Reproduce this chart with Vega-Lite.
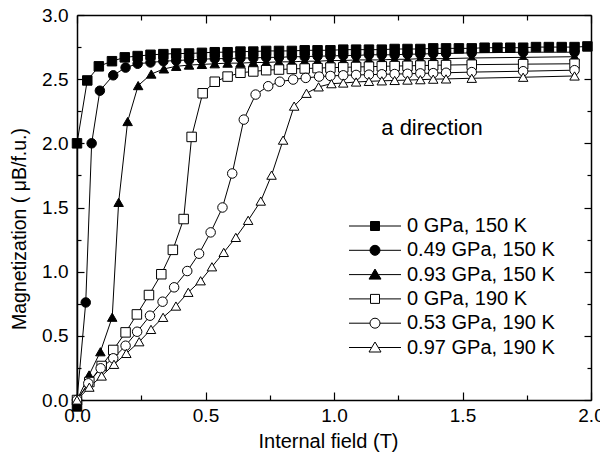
{
  "$schema": "https://vega.github.io/schema/vega-lite/v6.json",
  "width": 514,
  "height": 385,
  "autosize": "none",
  "padding": {"left": 77, "top": 15, "right": 9, "bottom": 58},
  "background": "white",
  "config": {
    "view": {"stroke": null},
    "font": "Liberation Sans",
    "axis": {
      "grid": false,
      "domainColor": "black",
      "domainWidth": 1.5,
      "tickColor": "black",
      "tickWidth": 1.2,
      "labelColor": "black",
      "labelFont": "Liberation Sans",
      "labelFontSize": 19,
      "titleColor": "black",
      "titleFont": "Liberation Sans",
      "titleFontSize": 20,
      "titleFontWeight": "normal"
    },
    "legend": {
      "title": null,
      "orient": "none",
      "legendX": 288,
      "legendY": 201,
      "padding": 0,
      "labelFont": "Liberation Sans",
      "labelFontSize": 20,
      "labelColor": "black",
      "labelOffset": 22,
      "symbolSize": 100,
      "symbolStrokeColor": "black",
      "symbolStrokeWidth": 1,
      "rowPadding": 4.3
    }
  },
  "data": {
    "values": [
      {"series": "0 GPa, 150 K", "i": 0, "x": 0, "y": -0.05},
      {"series": "0 GPa, 150 K", "i": 1, "x": 0, "y": 2.0},
      {"series": "0 GPa, 150 K", "i": 2, "x": 0.04, "y": 2.49},
      {"series": "0 GPa, 150 K", "i": 3, "x": 0.085, "y": 2.6},
      {"series": "0 GPa, 150 K", "i": 4, "x": 0.136, "y": 2.64},
      {"series": "0 GPa, 150 K", "i": 5, "x": 0.186, "y": 2.67},
      {"series": "0 GPa, 150 K", "i": 6, "x": 0.236, "y": 2.68},
      {"series": "0 GPa, 150 K", "i": 7, "x": 0.286, "y": 2.69},
      {"series": "0 GPa, 150 K", "i": 8, "x": 0.336, "y": 2.695},
      {"series": "0 GPa, 150 K", "i": 9, "x": 0.386, "y": 2.7},
      {"series": "0 GPa, 150 K", "i": 10, "x": 0.436, "y": 2.7},
      {"series": "0 GPa, 150 K", "i": 11, "x": 0.486, "y": 2.705},
      {"series": "0 GPa, 150 K", "i": 12, "x": 0.536, "y": 2.71},
      {"series": "0 GPa, 150 K", "i": 13, "x": 0.586, "y": 2.71},
      {"series": "0 GPa, 150 K", "i": 14, "x": 0.636, "y": 2.715},
      {"series": "0 GPa, 150 K", "i": 15, "x": 0.686, "y": 2.715},
      {"series": "0 GPa, 150 K", "i": 16, "x": 0.736, "y": 2.72},
      {"series": "0 GPa, 150 K", "i": 17, "x": 0.786, "y": 2.72},
      {"series": "0 GPa, 150 K", "i": 18, "x": 0.836, "y": 2.72},
      {"series": "0 GPa, 150 K", "i": 19, "x": 0.886, "y": 2.725},
      {"series": "0 GPa, 150 K", "i": 20, "x": 0.936, "y": 2.725},
      {"series": "0 GPa, 150 K", "i": 21, "x": 0.986, "y": 2.725},
      {"series": "0 GPa, 150 K", "i": 22, "x": 1.036, "y": 2.73},
      {"series": "0 GPa, 150 K", "i": 23, "x": 1.086, "y": 2.73},
      {"series": "0 GPa, 150 K", "i": 24, "x": 1.136, "y": 2.73},
      {"series": "0 GPa, 150 K", "i": 25, "x": 1.186, "y": 2.73},
      {"series": "0 GPa, 150 K", "i": 26, "x": 1.236, "y": 2.735},
      {"series": "0 GPa, 150 K", "i": 27, "x": 1.286, "y": 2.735},
      {"series": "0 GPa, 150 K", "i": 28, "x": 1.336, "y": 2.735},
      {"series": "0 GPa, 150 K", "i": 29, "x": 1.386, "y": 2.74},
      {"series": "0 GPa, 150 K", "i": 30, "x": 1.436, "y": 2.74},
      {"series": "0 GPa, 150 K", "i": 31, "x": 1.486, "y": 2.74},
      {"series": "0 GPa, 150 K", "i": 32, "x": 1.536, "y": 2.74},
      {"series": "0 GPa, 150 K", "i": 33, "x": 1.586, "y": 2.745},
      {"series": "0 GPa, 150 K", "i": 34, "x": 1.636, "y": 2.745},
      {"series": "0 GPa, 150 K", "i": 35, "x": 1.686, "y": 2.745},
      {"series": "0 GPa, 150 K", "i": 36, "x": 1.736, "y": 2.745},
      {"series": "0 GPa, 150 K", "i": 37, "x": 1.786, "y": 2.75},
      {"series": "0 GPa, 150 K", "i": 38, "x": 1.836, "y": 2.75},
      {"series": "0 GPa, 150 K", "i": 39, "x": 1.886, "y": 2.75},
      {"series": "0 GPa, 150 K", "i": 40, "x": 1.936, "y": 2.75},
      {"series": "0 GPa, 150 K", "i": 41, "x": 1.986, "y": 2.755},

      {"series": "0.49 GPa, 150 K", "i": 0, "x": 0, "y": 0},
      {"series": "0.49 GPa, 150 K", "i": 1, "x": 0.034, "y": 0.76},
      {"series": "0.49 GPa, 150 K", "i": 2, "x": 0.057, "y": 2.0},
      {"series": "0.49 GPa, 150 K", "i": 3, "x": 0.089, "y": 2.41},
      {"series": "0.49 GPa, 150 K", "i": 4, "x": 0.141, "y": 2.53},
      {"series": "0.49 GPa, 150 K", "i": 5, "x": 0.189, "y": 2.59},
      {"series": "0.49 GPa, 150 K", "i": 6, "x": 0.236, "y": 2.62},
      {"series": "0.49 GPa, 150 K", "i": 7, "x": 0.286, "y": 2.63},
      {"series": "0.49 GPa, 150 K", "i": 8, "x": 0.336, "y": 2.64},
      {"series": "0.49 GPa, 150 K", "i": 9, "x": 0.386, "y": 2.645},
      {"series": "0.49 GPa, 150 K", "i": 10, "x": 0.436, "y": 2.65},
      {"series": "0.49 GPa, 150 K", "i": 11, "x": 0.486, "y": 2.655},
      {"series": "0.49 GPa, 150 K", "i": 12, "x": 0.536, "y": 2.66},
      {"series": "0.49 GPa, 150 K", "i": 13, "x": 0.586, "y": 2.66},
      {"series": "0.49 GPa, 150 K", "i": 14, "x": 0.636, "y": 2.665},
      {"series": "0.49 GPa, 150 K", "i": 15, "x": 0.686, "y": 2.665},
      {"series": "0.49 GPa, 150 K", "i": 16, "x": 0.736, "y": 2.67},
      {"series": "0.49 GPa, 150 K", "i": 17, "x": 0.786, "y": 2.67},
      {"series": "0.49 GPa, 150 K", "i": 18, "x": 0.836, "y": 2.675},
      {"series": "0.49 GPa, 150 K", "i": 19, "x": 0.886, "y": 2.675},
      {"series": "0.49 GPa, 150 K", "i": 20, "x": 0.936, "y": 2.68},
      {"series": "0.49 GPa, 150 K", "i": 21, "x": 0.986, "y": 2.68},
      {"series": "0.49 GPa, 150 K", "i": 22, "x": 1.036, "y": 2.685},
      {"series": "0.49 GPa, 150 K", "i": 23, "x": 1.086, "y": 2.685},
      {"series": "0.49 GPa, 150 K", "i": 24, "x": 1.136, "y": 2.69},
      {"series": "0.49 GPa, 150 K", "i": 25, "x": 1.186, "y": 2.69},
      {"series": "0.49 GPa, 150 K", "i": 26, "x": 1.236, "y": 2.69},
      {"series": "0.49 GPa, 150 K", "i": 27, "x": 1.286, "y": 2.695},
      {"series": "0.49 GPa, 150 K", "i": 28, "x": 1.336, "y": 2.695},
      {"series": "0.49 GPa, 150 K", "i": 29, "x": 1.386, "y": 2.7},
      {"series": "0.49 GPa, 150 K", "i": 30, "x": 1.436, "y": 2.7},
      {"series": "0.49 GPa, 150 K", "i": 31, "x": 1.536, "y": 2.705},
      {"series": "0.49 GPa, 150 K", "i": 32, "x": 1.736, "y": 2.71},
      {"series": "0.49 GPa, 150 K", "i": 33, "x": 1.936, "y": 2.71},

      {"series": "0.93 GPa, 150 K", "i": 0, "x": 0, "y": 0},
      {"series": "0.93 GPa, 150 K", "i": 1, "x": 0.047, "y": 0.195},
      {"series": "0.93 GPa, 150 K", "i": 2, "x": 0.091, "y": 0.376},
      {"series": "0.93 GPa, 150 K", "i": 3, "x": 0.137, "y": 0.645},
      {"series": "0.93 GPa, 150 K", "i": 4, "x": 0.162, "y": 1.54},
      {"series": "0.93 GPa, 150 K", "i": 5, "x": 0.197, "y": 2.17},
      {"series": "0.93 GPa, 150 K", "i": 6, "x": 0.238, "y": 2.45},
      {"series": "0.93 GPa, 150 K", "i": 7, "x": 0.289, "y": 2.54},
      {"series": "0.93 GPa, 150 K", "i": 8, "x": 0.338, "y": 2.58},
      {"series": "0.93 GPa, 150 K", "i": 9, "x": 0.386, "y": 2.6},
      {"series": "0.93 GPa, 150 K", "i": 10, "x": 0.436, "y": 2.61},
      {"series": "0.93 GPa, 150 K", "i": 11, "x": 0.486, "y": 2.615},
      {"series": "0.93 GPa, 150 K", "i": 12, "x": 0.536, "y": 2.62},
      {"series": "0.93 GPa, 150 K", "i": 13, "x": 0.586, "y": 2.625},
      {"series": "0.93 GPa, 150 K", "i": 14, "x": 0.636, "y": 2.625},
      {"series": "0.93 GPa, 150 K", "i": 15, "x": 0.686, "y": 2.63},
      {"series": "0.93 GPa, 150 K", "i": 16, "x": 0.736, "y": 2.63},
      {"series": "0.93 GPa, 150 K", "i": 17, "x": 0.786, "y": 2.635},
      {"series": "0.93 GPa, 150 K", "i": 18, "x": 0.836, "y": 2.635},
      {"series": "0.93 GPa, 150 K", "i": 19, "x": 0.886, "y": 2.64},
      {"series": "0.93 GPa, 150 K", "i": 20, "x": 0.936, "y": 2.64},
      {"series": "0.93 GPa, 150 K", "i": 21, "x": 0.986, "y": 2.645},
      {"series": "0.93 GPa, 150 K", "i": 22, "x": 1.036, "y": 2.645},
      {"series": "0.93 GPa, 150 K", "i": 23, "x": 1.086, "y": 2.65},
      {"series": "0.93 GPa, 150 K", "i": 24, "x": 1.136, "y": 2.65},
      {"series": "0.93 GPa, 150 K", "i": 25, "x": 1.186, "y": 2.65},
      {"series": "0.93 GPa, 150 K", "i": 26, "x": 1.236, "y": 2.655},
      {"series": "0.93 GPa, 150 K", "i": 27, "x": 1.286, "y": 2.655},
      {"series": "0.93 GPa, 150 K", "i": 28, "x": 1.336, "y": 2.66},
      {"series": "0.93 GPa, 150 K", "i": 29, "x": 1.386, "y": 2.66},
      {"series": "0.93 GPa, 150 K", "i": 30, "x": 1.436, "y": 2.66},
      {"series": "0.93 GPa, 150 K", "i": 31, "x": 1.536, "y": 2.665},
      {"series": "0.93 GPa, 150 K", "i": 32, "x": 1.736, "y": 2.67},
      {"series": "0.93 GPa, 150 K", "i": 33, "x": 1.936, "y": 2.675},

      {"series": "0 GPa, 190 K", "i": 0, "x": 0, "y": 0},
      {"series": "0 GPa, 190 K", "i": 1, "x": 0.048, "y": 0.14},
      {"series": "0 GPa, 190 K", "i": 2, "x": 0.096, "y": 0.265},
      {"series": "0 GPa, 190 K", "i": 3, "x": 0.141, "y": 0.39},
      {"series": "0 GPa, 190 K", "i": 4, "x": 0.189, "y": 0.527},
      {"series": "0 GPa, 190 K", "i": 5, "x": 0.233, "y": 0.667},
      {"series": "0 GPa, 190 K", "i": 6, "x": 0.28, "y": 0.818},
      {"series": "0 GPa, 190 K", "i": 7, "x": 0.328, "y": 0.98},
      {"series": "0 GPa, 190 K", "i": 8, "x": 0.373, "y": 1.17},
      {"series": "0 GPa, 190 K", "i": 9, "x": 0.415, "y": 1.41},
      {"series": "0 GPa, 190 K", "i": 10, "x": 0.446, "y": 2.05},
      {"series": "0 GPa, 190 K", "i": 11, "x": 0.489, "y": 2.39},
      {"series": "0 GPa, 190 K", "i": 12, "x": 0.536, "y": 2.48},
      {"series": "0 GPa, 190 K", "i": 13, "x": 0.586, "y": 2.52},
      {"series": "0 GPa, 190 K", "i": 14, "x": 0.636, "y": 2.55},
      {"series": "0 GPa, 190 K", "i": 15, "x": 0.686, "y": 2.56},
      {"series": "0 GPa, 190 K", "i": 16, "x": 0.736, "y": 2.57},
      {"series": "0 GPa, 190 K", "i": 17, "x": 0.786, "y": 2.575},
      {"series": "0 GPa, 190 K", "i": 18, "x": 0.836, "y": 2.58},
      {"series": "0 GPa, 190 K", "i": 19, "x": 0.886, "y": 2.583},
      {"series": "0 GPa, 190 K", "i": 20, "x": 0.936, "y": 2.586},
      {"series": "0 GPa, 190 K", "i": 21, "x": 0.986, "y": 2.59},
      {"series": "0 GPa, 190 K", "i": 22, "x": 1.036, "y": 2.592},
      {"series": "0 GPa, 190 K", "i": 23, "x": 1.086, "y": 2.595},
      {"series": "0 GPa, 190 K", "i": 24, "x": 1.136, "y": 2.597},
      {"series": "0 GPa, 190 K", "i": 25, "x": 1.186, "y": 2.6},
      {"series": "0 GPa, 190 K", "i": 26, "x": 1.236, "y": 2.602},
      {"series": "0 GPa, 190 K", "i": 27, "x": 1.286, "y": 2.604},
      {"series": "0 GPa, 190 K", "i": 28, "x": 1.336, "y": 2.606},
      {"series": "0 GPa, 190 K", "i": 29, "x": 1.386, "y": 2.608},
      {"series": "0 GPa, 190 K", "i": 30, "x": 1.436, "y": 2.61},
      {"series": "0 GPa, 190 K", "i": 31, "x": 1.536, "y": 2.613},
      {"series": "0 GPa, 190 K", "i": 32, "x": 1.736, "y": 2.617},
      {"series": "0 GPa, 190 K", "i": 33, "x": 1.936, "y": 2.62},

      {"series": "0.53 GPa, 190 K", "i": 0, "x": 0, "y": 0},
      {"series": "0.53 GPa, 190 K", "i": 1, "x": 0.044, "y": 0.13},
      {"series": "0.53 GPa, 190 K", "i": 2, "x": 0.092, "y": 0.247},
      {"series": "0.53 GPa, 190 K", "i": 3, "x": 0.141, "y": 0.325},
      {"series": "0.53 GPa, 190 K", "i": 4, "x": 0.189, "y": 0.423},
      {"series": "0.53 GPa, 190 K", "i": 5, "x": 0.234, "y": 0.532},
      {"series": "0.53 GPa, 190 K", "i": 6, "x": 0.284, "y": 0.657},
      {"series": "0.53 GPa, 190 K", "i": 7, "x": 0.333, "y": 0.766},
      {"series": "0.53 GPa, 190 K", "i": 8, "x": 0.378, "y": 0.878},
      {"series": "0.53 GPa, 190 K", "i": 9, "x": 0.429, "y": 1.005},
      {"series": "0.53 GPa, 190 K", "i": 10, "x": 0.475, "y": 1.14},
      {"series": "0.53 GPa, 190 K", "i": 11, "x": 0.52, "y": 1.306},
      {"series": "0.53 GPa, 190 K", "i": 12, "x": 0.566, "y": 1.5},
      {"series": "0.53 GPa, 190 K", "i": 13, "x": 0.604, "y": 1.765},
      {"series": "0.53 GPa, 190 K", "i": 14, "x": 0.649, "y": 2.185},
      {"series": "0.53 GPa, 190 K", "i": 15, "x": 0.695, "y": 2.38},
      {"series": "0.53 GPa, 190 K", "i": 16, "x": 0.744, "y": 2.445},
      {"series": "0.53 GPa, 190 K", "i": 17, "x": 0.789, "y": 2.48},
      {"series": "0.53 GPa, 190 K", "i": 18, "x": 0.841, "y": 2.497},
      {"series": "0.53 GPa, 190 K", "i": 19, "x": 0.89, "y": 2.51},
      {"series": "0.53 GPa, 190 K", "i": 20, "x": 0.942, "y": 2.52},
      {"series": "0.53 GPa, 190 K", "i": 21, "x": 0.986, "y": 2.525},
      {"series": "0.53 GPa, 190 K", "i": 22, "x": 1.036, "y": 2.53},
      {"series": "0.53 GPa, 190 K", "i": 23, "x": 1.086, "y": 2.533},
      {"series": "0.53 GPa, 190 K", "i": 24, "x": 1.136, "y": 2.535},
      {"series": "0.53 GPa, 190 K", "i": 25, "x": 1.186, "y": 2.538},
      {"series": "0.53 GPa, 190 K", "i": 26, "x": 1.236, "y": 2.54},
      {"series": "0.53 GPa, 190 K", "i": 27, "x": 1.286, "y": 2.542},
      {"series": "0.53 GPa, 190 K", "i": 28, "x": 1.336, "y": 2.545},
      {"series": "0.53 GPa, 190 K", "i": 29, "x": 1.386, "y": 2.547},
      {"series": "0.53 GPa, 190 K", "i": 30, "x": 1.436, "y": 2.55},
      {"series": "0.53 GPa, 190 K", "i": 31, "x": 1.536, "y": 2.555},
      {"series": "0.53 GPa, 190 K", "i": 32, "x": 1.736, "y": 2.562},
      {"series": "0.53 GPa, 190 K", "i": 33, "x": 1.936, "y": 2.57},

      {"series": "0.97 GPa, 190 K", "i": 0, "x": 0, "y": 0},
      {"series": "0.97 GPa, 190 K", "i": 1, "x": 0.048, "y": 0.1},
      {"series": "0.97 GPa, 190 K", "i": 2, "x": 0.096, "y": 0.187},
      {"series": "0.97 GPa, 190 K", "i": 3, "x": 0.144, "y": 0.278},
      {"series": "0.97 GPa, 190 K", "i": 4, "x": 0.192, "y": 0.363},
      {"series": "0.97 GPa, 190 K", "i": 5, "x": 0.242, "y": 0.454},
      {"series": "0.97 GPa, 190 K", "i": 6, "x": 0.288, "y": 0.55},
      {"series": "0.97 GPa, 190 K", "i": 7, "x": 0.335, "y": 0.644},
      {"series": "0.97 GPa, 190 K", "i": 8, "x": 0.385, "y": 0.732},
      {"series": "0.97 GPa, 190 K", "i": 9, "x": 0.433, "y": 0.839},
      {"series": "0.97 GPa, 190 K", "i": 10, "x": 0.481, "y": 0.929},
      {"series": "0.97 GPa, 190 K", "i": 11, "x": 0.525, "y": 1.038},
      {"series": "0.97 GPa, 190 K", "i": 12, "x": 0.571, "y": 1.15},
      {"series": "0.97 GPa, 190 K", "i": 13, "x": 0.618, "y": 1.267},
      {"series": "0.97 GPa, 190 K", "i": 14, "x": 0.666, "y": 1.4},
      {"series": "0.97 GPa, 190 K", "i": 15, "x": 0.715, "y": 1.55},
      {"series": "0.97 GPa, 190 K", "i": 16, "x": 0.757, "y": 1.752},
      {"series": "0.97 GPa, 190 K", "i": 17, "x": 0.802, "y": 2.025},
      {"series": "0.97 GPa, 190 K", "i": 18, "x": 0.845, "y": 2.29},
      {"series": "0.97 GPa, 190 K", "i": 19, "x": 0.893, "y": 2.39},
      {"series": "0.97 GPa, 190 K", "i": 20, "x": 0.94, "y": 2.44},
      {"series": "0.97 GPa, 190 K", "i": 21, "x": 0.99, "y": 2.465},
      {"series": "0.97 GPa, 190 K", "i": 22, "x": 1.036, "y": 2.47},
      {"series": "0.97 GPa, 190 K", "i": 23, "x": 1.086, "y": 2.478},
      {"series": "0.97 GPa, 190 K", "i": 24, "x": 1.136, "y": 2.483},
      {"series": "0.97 GPa, 190 K", "i": 25, "x": 1.186, "y": 2.487},
      {"series": "0.97 GPa, 190 K", "i": 26, "x": 1.236, "y": 2.49},
      {"series": "0.97 GPa, 190 K", "i": 27, "x": 1.286, "y": 2.493},
      {"series": "0.97 GPa, 190 K", "i": 28, "x": 1.336, "y": 2.496},
      {"series": "0.97 GPa, 190 K", "i": 29, "x": 1.386, "y": 2.5},
      {"series": "0.97 GPa, 190 K", "i": 30, "x": 1.436, "y": 2.502},
      {"series": "0.97 GPa, 190 K", "i": 31, "x": 1.536, "y": 2.507},
      {"series": "0.97 GPa, 190 K", "i": 32, "x": 1.736, "y": 2.515},
      {"series": "0.97 GPa, 190 K", "i": 33, "x": 1.936, "y": 2.525}
    ]
  },
  "layer": [
    {
      "mark": {"type": "line", "color": "black", "strokeWidth": 1, "clip": false},
      "encoding": {
        "x": {
          "field": "x", "type": "quantitative",
          "scale": {"domain": [0, 2], "nice": false, "zero": false},
          "axis": {
            "orient": "bottom",
            "title": "Internal field (T)",
            "values": [0, 0.25, 0.5, 0.75, 1, 1.25, 1.5, 1.75, 2],
            "labelExpr": "datum.value % 0.5 === 0 ? format(datum.value, '.1f') : ''",
            "labelFlush": false,
            "labelPadding": 14,
            "tickSize": {"condition": {"test": "datum.value % 0.5 === 0", "value": -8}, "value": -5},
            "titleX": 251,
            "titleY": 47,
            "titleBaseline": "alphabetic"
          }
        },
        "y": {
          "field": "y", "type": "quantitative",
          "scale": {"domain": [0, 3], "nice": false, "zero": false},
          "axis": {
            "orient": "left",
            "title": "Magnetization ( μB/f.u.)",
            "titleFontSize": 19.5,
            "values": [0, 0.25, 0.5, 0.75, 1, 1.25, 1.5, 1.75, 2, 2.25, 2.5, 2.75, 3],
            "labelExpr": "datum.value % 0.5 === 0 ? format(datum.value, '.1f') : ''",
            "labelFlush": false,
            "labelPadding": 16,
            "tickSize": {"condition": {"test": "datum.value % 0.5 === 0", "value": -7}, "value": -4},
            "titleX": -52,
            "titleY": 213.5,
            "titleAngle": -90,
            "titleAlign": "center",
            "titleBaseline": "alphabetic"
          }
        },
        "detail": {"field": "series"},
        "order": {"field": "i", "type": "quantitative"}
      }
    },
    {
      "mark": {"type": "point", "filled": true, "stroke": "black", "strokeWidth": 1, "size": 90, "opacity": 1, "clip": false},
      "encoding": {
        "x": {
          "field": "x", "type": "quantitative",
          "axis": {
            "orient": "top", "title": null, "labels": false,
            "values": [0, 0.25, 0.5, 0.75, 1, 1.25, 1.5, 1.75, 2],
            "tickSize": {"condition": {"test": "datum.value % 0.5 === 0", "value": -8}, "value": -5}
          }
        },
        "y": {
          "field": "y", "type": "quantitative",
          "axis": {
            "orient": "right", "title": null, "labels": false,
            "values": [0, 0.25, 0.5, 0.75, 1, 1.25, 1.5, 1.75, 2, 2.25, 2.5, 2.75, 3],
            "tickSize": {"condition": {"test": "datum.value % 0.5 === 0", "value": -7}, "value": -4}
          }
        },
        "shape": {
          "field": "series", "type": "nominal",
          "scale": {
            "domain": ["0 GPa, 150 K", "0.49 GPa, 150 K", "0.93 GPa, 150 K", "0 GPa, 190 K", "0.53 GPa, 190 K", "0.97 GPa, 190 K"],
            "range": ["square", "circle", "triangle-up", "square", "circle", "triangle-up"]
          },
          "legend": null
        },
        "fill": {
          "field": "series", "type": "nominal",
          "scale": {
            "domain": ["0 GPa, 150 K", "0.49 GPa, 150 K", "0.93 GPa, 150 K", "0 GPa, 190 K", "0.53 GPa, 190 K", "0.97 GPa, 190 K"],
            "range": ["black", "black", "black", "white", "white", "white"]
          },
          "legend": null
        }
      }
    },
    {
      "transform": [{"filter": "false"}],
      "mark": {"type": "point", "filled": true, "stroke": "black", "strokeWidth": 1, "opacity": 1},
      "encoding": {
        "shape": {
          "field": "series", "type": "nominal",
          "scale": {
            "domain": ["0 GPa, 150 K", "0.49 GPa, 150 K", "0.93 GPa, 150 K", "0 GPa, 190 K", "0.53 GPa, 190 K", "0.97 GPa, 190 K"],
            "range": [
              "M-5.2,0H-0.9M0.9,0H5.2M-0.9,-0.9H0.9V0.9H-0.9Z",
              "M-5.2,0H-1M1,0H5.2M-1,0A1,1,0,1,0,1,0A1,1,0,1,0,-1,0Z",
              "M-5.2,0H-0.66M0.66,0H5.2M0,-1.1L1.2,0.9H-1.2Z",
              "M-5.2,0H-0.9M0.9,0H5.2M-0.9,-0.9H0.9V0.9H-0.9Z",
              "M-5.2,0H-1M1,0H5.2M-1,0A1,1,0,1,0,1,0A1,1,0,1,0,-1,0Z",
              "M-5.2,0H-0.66M0.66,0H5.2M0,-1.1L1.2,0.9H-1.2Z"
            ]
          },
          "legend": {
            "encoding": {
              "symbols": {
                "stroke": {"value": "black"},
                "strokeWidth": {"value": 1}
              }
            }
          }
        },
        "fill": {
          "field": "series", "type": "nominal",
          "scale": {
            "domain": ["0 GPa, 150 K", "0.49 GPa, 150 K", "0.93 GPa, 150 K", "0 GPa, 190 K", "0.53 GPa, 190 K", "0.97 GPa, 190 K"],
            "range": ["black", "black", "black", "white", "white", "white"]
          },
          "legend": {
            "encoding": {
              "symbols": {
                "stroke": {"value": "black"},
                "strokeWidth": {"value": 1}
              }
            }
          }
        }
      }
    },
    {
      "data": {"values": [{}]},
      "mark": {"type": "text", "text": "a direction", "font": "Liberation Sans", "fontSize": 22, "align": "left", "baseline": "alphabetic", "color": "black"},
      "encoding": {
        "x": {"datum": 1.184, "type": "quantitative", "axis": null},
        "y": {"datum": 2.064, "type": "quantitative", "axis": null}
      }
    }
  ],
  "resolve": {
    "scale": {"shape": "independent", "fill": "independent"},
    "axis": {"x": "independent", "y": "independent"}
  }
}
